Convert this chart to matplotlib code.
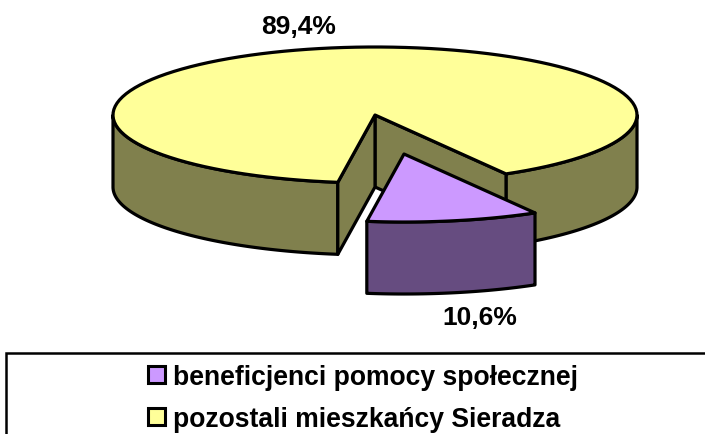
import numpy as np
import matplotlib
matplotlib.use("Agg")
import matplotlib.pyplot as plt
from matplotlib.patches import Polygon, Rectangle

categories = ["beneficjenci pomocy społecznej", "pozostali mieszkańcy Sieradza"]
shares = [10.6, 89.4]
labels = ["10,6%", "89,4%"]
top_colors = ["#CC99FF", "#FFFF99"]
side_colors = ["#664C80", "#80804D"]

CX, CY, RX, RY, DEPTH = 375, 116, 262, 68, 72
START = 60.0
EXPLODE = (29, 39)
LW = 2.3
FONT = "Liberation Sans"

plt.rcParams["font.family"] = [FONT, "DejaVu Sans"]
fig = plt.figure(figsize=(7.05, 4.35), dpi=100, facecolor="white")
ax = fig.add_axes([0, 0, 1, 1])
ax.set_xlim(0, 705)
ax.set_ylim(435, 0)
ax.axis("off")


def arc(t0, t1, cx=CX, cy=CY, n=120):
    t = np.radians(np.linspace(t0, t1, n))
    return np.column_stack([cx + RX * np.cos(t), cy + RY * np.sin(t)])


def poly(pts, fc, z):
    ax.add_patch(Polygon(pts, closed=True, facecolor=fc, edgecolor="black",
                         linewidth=LW, joinstyle="round", zorder=z))


def wall(a, fc, z):
    down = a + np.array([0, DEPTH])
    poly(np.vstack([a, down[::-1]]), fc, z)


small_sweep = shares[0] / sum(shares) * 360
end = START + small_sweep

# main slice
ctr = np.array([[CX, CY]])
wall(arc(0, START), side_colors[1], 2)
wall(arc(end, 180), side_colors[1], 2)
wall(np.vstack([ctr, arc(START, START, n=1)]), side_colors[1], 3)
wall(np.vstack([ctr, arc(end, end, n=1)]), side_colors[1], 3)
poly(np.vstack([ctr, arc(end, 360 + START)]), top_colors[1], 4)

# exploded slice
ex, ey = CX + EXPLODE[0], CY + EXPLODE[1]
wall(arc(START, end, ex, ey), side_colors[0], 5)
poly(np.vstack([[[ex, ey]], arc(START, end, ex, ey)]), top_colors[0], 6)

# data labels
ax.text(299, 27, labels[1], ha="center", va="center", fontsize=19,
        fontweight="bold", zorder=8)
ax.text(480, 318, labels[0], ha="center", va="center", fontsize=19,
        fontweight="bold", zorder=8)

# legend
ax.add_patch(Rectangle((6, 354), 720, 100, facecolor="white", edgecolor="black",
                       linewidth=1.8, zorder=1, clip_on=True))
for name, color, y in zip(categories, top_colors, [375.5, 417.5]):
    ax.add_patch(Rectangle((148, y - 8.5), 17, 17, facecolor=color, edgecolor="black",
                           linewidth=2.2, zorder=8))
    ax.text(173, y, name, ha="left", va="center_baseline", fontsize=19.1,
            fontweight="bold", zorder=8)

fig.savefig("out.png", dpi=100)
